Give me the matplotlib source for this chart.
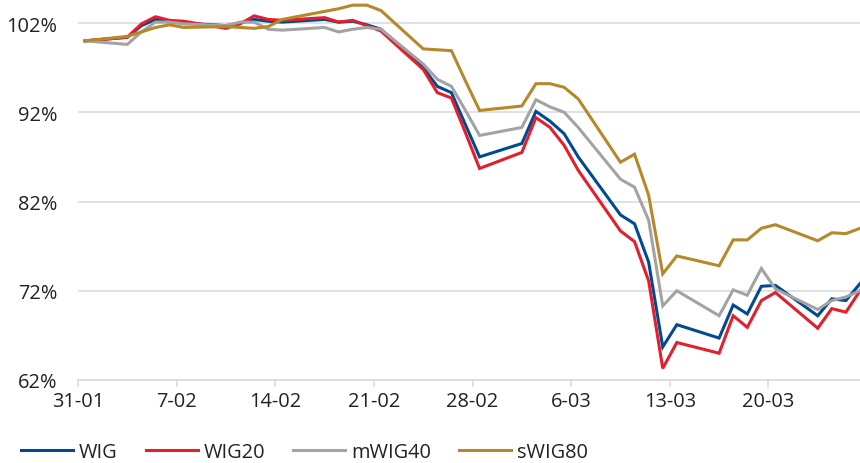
import pandas as pd
import matplotlib
matplotlib.use("Agg")
import matplotlib.pyplot as plt

# trading days, 31-01-2020 .. 26-03-2020
dates = ["2020-01-31",
         "2020-02-03", "2020-02-04", "2020-02-05", "2020-02-06", "2020-02-07",
         "2020-02-10", "2020-02-11", "2020-02-12", "2020-02-13", "2020-02-14",
         "2020-02-17", "2020-02-18", "2020-02-19", "2020-02-20", "2020-02-21",
         "2020-02-24", "2020-02-25", "2020-02-26", "2020-02-27", "2020-02-28",
         "2020-03-02", "2020-03-03", "2020-03-04", "2020-03-05", "2020-03-06",
         "2020-03-09", "2020-03-10", "2020-03-11", "2020-03-12", "2020-03-13",
         "2020-03-16", "2020-03-17", "2020-03-18", "2020-03-19", "2020-03-20",
         "2020-03-23", "2020-03-24", "2020-03-25", "2020-03-26"]

# index level, % of 31-01
wig = [100.0, 100.4, 101.7, 102.4, 102.2, 102.0, 101.7, 102.0, 102.4, 102.2,
       102.1, 102.4, 102.1, 102.2, 101.8, 101.3, 97.0, 94.9, 94.2, 90.6,
       87.0, 88.5, 92.1, 91.0, 89.6, 87.0, 80.5, 79.5, 75.2, 65.7,
       68.2, 66.7, 70.4, 69.4, 72.5, 72.6, 69.2, 71.1, 70.9, 72.8]
wig20 = [100.0, 100.4, 101.9, 102.7, 102.3, 102.2, 101.4, 101.9, 102.8, 102.4,
         102.3, 102.6, 102.1, 102.3, 101.7, 101.1, 96.8, 94.2, 93.6, 89.7,
         85.7, 87.5, 91.4, 90.3, 88.3, 85.5, 78.7, 77.5, 73.1, 63.3,
         66.2, 65.0, 69.2, 67.9, 70.9, 71.8, 67.8, 70.0, 69.6, 72.0]
mwig40 = [100.0, 99.6, 101.0, 102.1, 102.1, 101.9, 101.7, 102.1, 102.1, 101.3,
          101.2, 101.5, 101.0, 101.3, 101.5, 101.3, 97.4, 95.7, 94.9, 92.2,
          89.4, 90.3, 93.4, 92.6, 92.0, 90.3, 84.5, 83.6, 79.9, 70.3,
          72.0, 69.2, 72.1, 71.5, 74.5, 72.2, 69.9, 70.9, 71.3, 72.0]
swig80 = [100.0, 100.5, 101.0, 101.5, 101.8, 101.5, 101.6, 101.5, 101.4, 101.6,
          102.4, 103.3, 103.6, 104.0, 104.0, 103.4, 99.1, 99.0, 98.9, 95.5,
          92.2, 92.7, 95.2, 95.2, 94.8, 93.5, 86.4, 87.3, 82.7, 73.9,
          75.9, 74.8, 77.7, 77.7, 79.0, 79.4, 77.6, 78.5, 78.4, 79.0]

tick_labels = ["31-01", "7-02", "14-02", "21-02", "28-02", "6-03", "13-03", "20-03"]
y_ticks = [62, 72, 82, 92, 102]

series = [("WIG", wig, "#004a93"),
          ("WIG20", wig20, "#e31e2d"),
          ("mWIG40", mwig40, "#a3a3a3"),
          ("sWIG80", swig80, "#b5882a")]

plt.rcParams["font.family"] = ["Open Sans", "DejaVu Sans"]

start = pd.Timestamp(dates[0])
x = [(pd.Timestamp(d) - start).days for d in dates]

fig = plt.figure(figsize=(8.6, 4.64), dpi=100)
ax = fig.add_axes([78 / 860, 83 / 464, 782 / 860, 380.2 / 464])

for name, vals, col in series:
    ax.plot(x, vals, color=col, lw=2.2, label=name, solid_joinstyle="miter")

ax.set_xlim(-0.5, 55.0)
ax.set_ylim(62, 104.6)

# Excel date axis: ticks sit between the day slots
ax.set_xticks([-0.5 + 7 * i for i in range(len(tick_labels))])
ax.set_xticklabels(tick_labels)
ax.set_yticks(y_ticks)
ax.set_yticklabels([f"{v}%" for v in y_ticks])

ax.grid(axis="y", color="#d9d9d9", lw=1.1)
ax.set_axisbelow(True)
for s in ["top", "right", "left"]:
    ax.spines[s].set_visible(False)
ax.spines["bottom"].set_color("#d9d9d9")
ax.spines["bottom"].set_linewidth(1.1)

ax.tick_params(axis="x", length=5, width=1.1, color="#d9d9d9", pad=3,
               labelsize=14.4, labelcolor="#222222")
ax.tick_params(axis="y", length=0, pad=15, labelsize=14.4, labelcolor="#222222")

leg = fig.legend(loc="center left", bbox_to_anchor=(21 / 860, 1 - 453 / 464),
                 ncol=4, frameon=False, fontsize=14.4, handlelength=2.6,
                 handletextpad=0.3, columnspacing=1.4, borderpad=0,
                 borderaxespad=0)
for t in leg.get_texts():
    t.set_color("#222222")

fig.savefig("out.png", dpi=100)
